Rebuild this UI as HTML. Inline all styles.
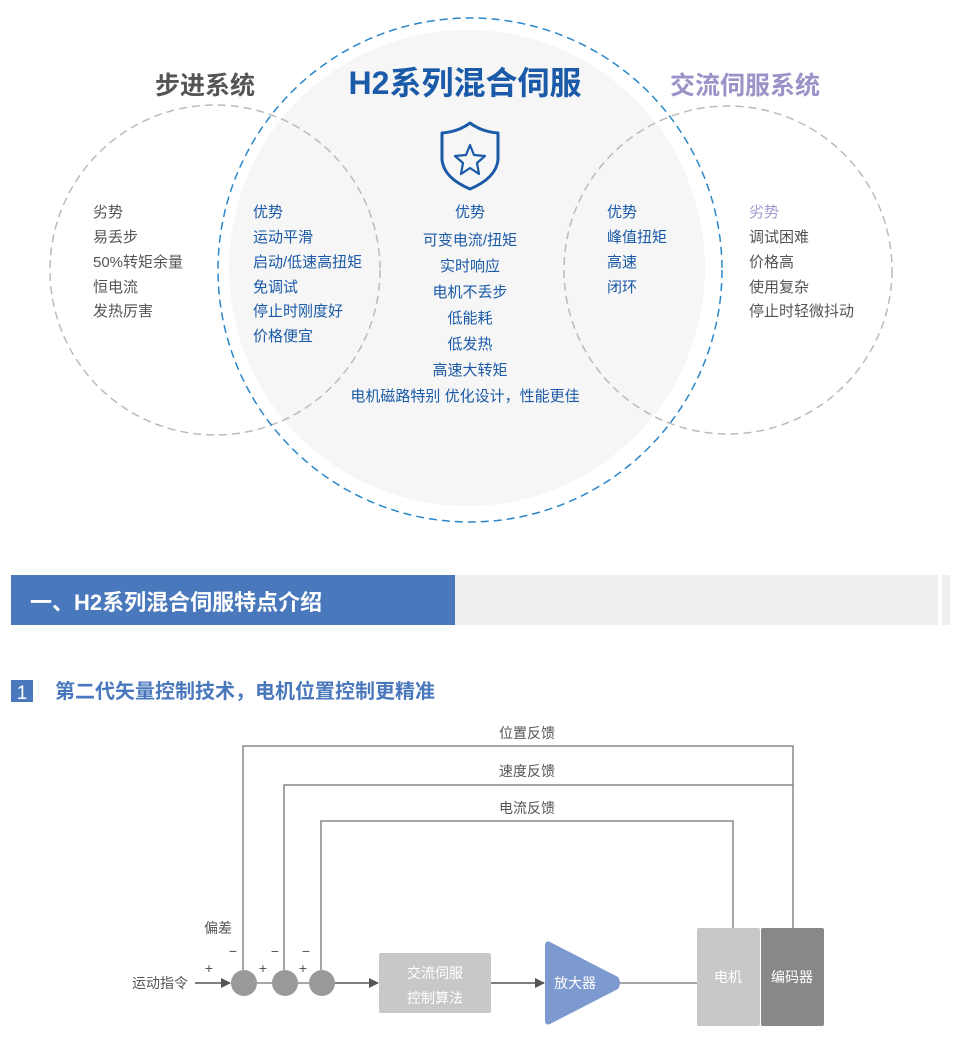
<!DOCTYPE html>
<html><head><meta charset="utf-8"><style>
body{margin:0;background:#fff;}
svg text{font-family:"Liberation Sans","Noto Sans CJK SC",sans-serif;}
</style></head><body>
<svg width="980" height="1034" viewBox="0 0 980 1034" xmlns="http://www.w3.org/2000/svg">
<defs>
<marker id="ar" markerWidth="10" markerHeight="10" refX="9" refY="5" orient="auto" markerUnits="userSpaceOnUse"><path d="M0,0 L10,5 L0,10 z" fill="#555"/></marker>
</defs>
<circle cx="467" cy="268" r="238" fill="#f6f6f6"/>
<circle cx="215" cy="270" r="165" fill="none" stroke="#bbb" stroke-width="1.5" stroke-dasharray="8,5"/>
<circle cx="728" cy="270" r="164" fill="none" stroke="#bbb" stroke-width="1.5" stroke-dasharray="8,5"/>
<circle cx="470" cy="270" r="252" fill="none" stroke="#2a86c8" stroke-width="1.5" stroke-dasharray="8,5"/>
<text x="205" y="94" font-size="25" font-weight="bold" fill="#555" text-anchor="middle">步进系统</text>
<text x="465" y="94" font-size="32" font-weight="bold" fill="#1a5aa8" text-anchor="middle">H2系列混合伺服</text>
<text x="745" y="94" font-size="25" font-weight="bold" fill="#9a93c8" text-anchor="middle">交流伺服系统</text>
<g fill="none" stroke="#1a5aa8" stroke-width="3" stroke-linejoin="round">
<path d="M442,133 Q458,132 470,123 Q482,132 498,133 L498,160 Q496,178 470,189 Q444,178 442,160 Z"/>
<path d="M470,145 L474,155 L485,156 L477,163 L479,174 L470,168 L461,174 L463,163 L455,156 L466,155 Z" stroke-width="2.2"/>
</g>
<g font-size="15" fill="#555">
<text x="93" y="217">劣势</text><text x="93" y="242">易丢步</text><text x="93" y="267">50%转矩余量</text><text x="93" y="292">恒电流</text><text x="93" y="316">发热厉害</text>
</g>
<g font-size="15" fill="#1a5aa8">
<text x="253" y="217">优势</text><text x="253" y="242">运动平滑</text><text x="253" y="267">启动/低速高扭矩</text><text x="253" y="292">免调试</text><text x="253" y="316">停止时刚度好</text><text x="253" y="341">价格便宜</text>
</g>
<g font-size="15" fill="#1a5aa8" text-anchor="middle">
<text x="470" y="217">优势</text><text x="470" y="245">可变电流/扭矩</text><text x="470" y="271">实时响应</text><text x="470" y="297">电机不丢步</text><text x="470" y="323">低能耗</text><text x="470" y="349">低发热</text><text x="470" y="375">高速大转矩</text><text x="465" y="401">电机磁路特别  优化设计，性能更佳</text>
</g>
<g font-size="15" fill="#1a5aa8">
<text x="607" y="217">优势</text><text x="607" y="242">峰值扭矩</text><text x="607" y="267">高速</text><text x="607" y="292">闭环</text>
</g>
<g font-size="15" fill="#555">
<text x="749" y="217" fill="#a09ad0">劣势</text><text x="749" y="242">调试困难</text><text x="749" y="267">价格高</text><text x="749" y="292">使用复杂</text><text x="749" y="316">停止时轻微抖动</text>
</g>
<rect x="11" y="575" width="444" height="50" fill="#4a78bd"/>
<rect x="455" y="575" width="483" height="50" fill="#efefef"/>
<rect x="942" y="575" width="8" height="50" fill="#efefef"/>
<text x="30" y="610" font-size="22" font-weight="bold" fill="#fff">一、H2系列混合伺服特点介绍</text>
<rect x="11" y="680" width="22" height="22" fill="#4a78bd"/>
<text x="22" y="699" font-size="19" fill="#fff" text-anchor="middle">1</text>
<text x="55" y="698" font-size="20" font-weight="bold" fill="#4a78bd">第二代矢量控制技术，电机位置控制更精准</text>
<g fill="none" stroke="#888" stroke-width="1.5">
<polyline points="243,970 243,746 793,746 793,928"/>
<polyline points="284,970 284,785 793,785"/>
<polyline points="321,970 321,821 733,821 733,928"/>
<line x1="195" y1="983" x2="230" y2="983" stroke="#555" marker-end="url(#ar)"/>
<line x1="257" y1="983" x2="272" y2="983"/>
<line x1="298" y1="983" x2="309" y2="983"/>
<line x1="335" y1="983" x2="378" y2="983" stroke="#555" marker-end="url(#ar)"/>
<line x1="491" y1="983" x2="544" y2="983" stroke="#555" marker-end="url(#ar)"/>
<line x1="620" y1="983" x2="697" y2="983"/>
</g>
<g font-size="14" fill="#555" text-anchor="middle">
<text x="527" y="738">位置反馈</text><text x="527" y="776">速度反馈</text><text x="527" y="813">电流反馈</text>
<text x="218" y="933">偏差</text>
<text x="233" y="956">−</text><text x="275" y="956">−</text><text x="306" y="956">−</text>
<text x="209" y="973">+</text><text x="263" y="973">+</text><text x="303" y="973">+</text>
<text x="160" y="988">运动指令</text>
</g>
<circle cx="244" cy="983" r="13" fill="#999"/>
<circle cx="285" cy="983" r="13" fill="#999"/>
<circle cx="322" cy="983" r="13" fill="#999"/>
<rect x="379" y="953" width="112" height="60" rx="2" fill="#c8c8c8"/>
<text x="435" y="978" font-size="14" fill="#fff" text-anchor="middle">交流伺服</text>
<text x="435" y="1003" font-size="14" fill="#fff" text-anchor="middle">控制算法</text>
<path d="M550,942 L618,977 Q622,983 618,989 L550,1024 Q545,1026 545,1020 L545,946 Q545,940 550,942 Z" fill="#7d9ad0"/>
<text x="575" y="988" font-size="14" fill="#fff" text-anchor="middle">放大器</text>
<rect x="697" y="928" width="63" height="98" rx="2" fill="#c8c8c8"/>
<rect x="761" y="928" width="63" height="98" rx="2" fill="#888"/>
<text x="728" y="982" font-size="14" fill="#fff" text-anchor="middle">电机</text>
<text x="792" y="982" font-size="14" fill="#fff" text-anchor="middle">编码器</text>
</svg>
</body></html>
